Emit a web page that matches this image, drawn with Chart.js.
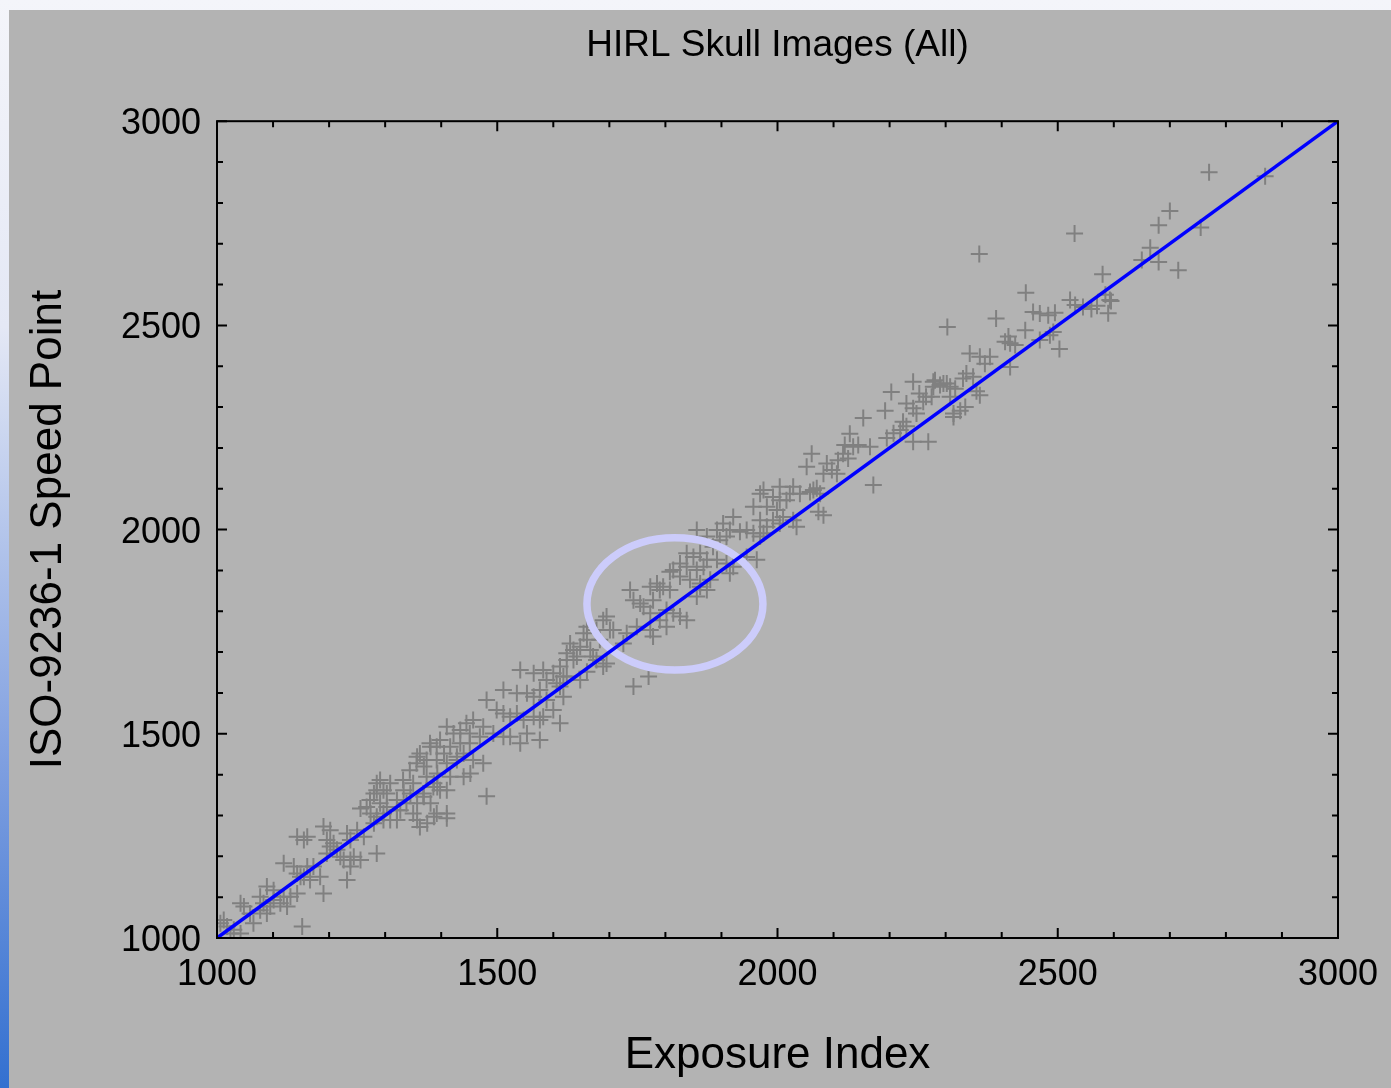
<!DOCTYPE html>
<html>
<head>
<meta charset="utf-8">
<title>HIRL Skull Images (All)</title>
<script src="https://cdn.jsdelivr.net/npm/chart.js@4.4.1/dist/chart.umd.min.js"></script>
<style>
  html, body {
    margin: 0;
    padding: 0;
    width: 1391px;
    height: 1088px;
    overflow: hidden;
    background: linear-gradient(to bottom, #f4f5fa 0%, #e4e8f5 30%, #7f9fe0 70%, #3370d0 100%);
  }
  #panel {
    position: absolute;
    left: 9px;
    top: 10px;
    width: 1382px;
    height: 1078px;
    background: #b3b3b3;
  }
</style>
</head>
<body>
<div id="panel"><canvas id="skullChart" width="1382" height="1078"></canvas></div>
<script>
// HIRL skull images: exposure index vs ISO-9236-1 speed point

const chartTitle = "HIRL Skull Images (All)";
const xTitle = "Exposure Index";
const yTitle = "ISO-9236-1 Speed Point";

const majorTicks = [1000, 1500, 2000, 2500, 3000];
const minorTicks = [1000, 1100, 1200, 1300, 1400, 1500, 1600, 1700, 1800, 1900, 2000,
  2100, 2200, 2300, 2400, 2500, 2600, 2700, 2800, 2900, 3000];

// identity line (speed point = exposure index)
const fitX = [1000, 3000];
const fitY = [1000, 3000];

// highlighted region (data units): centre and radii
const circleCenter = [1817, 1818];
const circleRadius = [157, 162];

// [exposure index, speed point]
const skullPoints = [
  [2770, 2875], [2870, 2865], [2700, 2780], [2680, 2745], [2755, 2740], [2665, 2690],
  [2650, 2660], [2680, 2655], [2715, 2635], [2580, 2625], [2585, 2575], [2595, 2560],
  [2590, 2530], [2545, 2545], [2560, 2540], [2570, 2548], [2530, 2725], [2360, 2675],
  [2443, 2580], [2390, 2517], [2303, 2496], [2456, 2533], [2468, 2529], [2483, 2525],
  [2495, 2531], [2522, 2562], [2531, 2550], [2593, 2562], [2442, 2488], [2412, 2473],
  [2415, 2456], [2406, 2460], [2424, 2452], [2468, 2464], [2486, 2476], [2492, 2484],
  [2503, 2442], [2343, 2431], [2361, 2423], [2379, 2423], [2370, 2406], [2415, 2398],
  [2337, 2382], [2349, 2374], [2331, 2370], [2281, 2366], [2296, 2358], [2308, 2350],
  [2317, 2345], [2278, 2350], [2355, 2339], [2361, 2329], [2308, 2325], [2314, 2284],
  [2335, 2300], [2275, 2325],
  [2242, 2362], [2203, 2337], [2278, 2362], [2290, 2354], [2302, 2358], [2253, 2333],
  [2265, 2325], [2260, 2313], [2326, 2291], [2314, 2276], [2192, 2291], [2230, 2309],
  [2242, 2297], [2248, 2284], [2153, 2273], [2224, 2264], [2219, 2244], [2207, 2236],
  [2195, 2224], [2230, 2253], [2242, 2215], [2269, 2215], [2129, 2235], [2120, 2207],
  [2135, 2203], [2144, 2207], [2165, 2203], [2117, 2186], [2126, 2174], [2108, 2170],
  [2061, 2186], [2052, 2154], [2088, 2162], [2097, 2146], [2106, 2137], [2082, 2137],
  [2171, 2109], [1969, 2088], [1992, 2080], [2004, 2072], [2022, 2088], [2040, 2088],
  [2058, 2092], [2070, 2101], [2076, 2088], [1981, 2056], [1999, 2048], [2010, 2031],
  [2028, 2023], [2034, 2007], [2004, 2015], [1992, 2023], [2082, 2035], [1975, 1991],
  [1975, 2097], [2004, 2105], [2028, 2105], [2016, 2072], [2064, 2097], [2073, 2044],
  [1957, 2056], [1969, 2023], [1981, 2007], [1921, 2031], [1903, 2015], [1915, 1999],
  [1933, 1995], [1892, 1999], [1909, 1983], [1945, 1999], [1957, 1991], [1969, 1983],
  [1856, 1999], [1874, 1983], [1897, 1974], [1885, 1958], [1963, 1926], [1945, 1933],
  [1838, 1942], [1850, 1933], [1862, 1942], [1874, 1926], [1892, 1926], [1909, 1917],
  [1868, 1909], [1856, 1901], [1838, 1909], [1826, 1917], [1814, 1901], [1808, 1897],
  [1826, 1885], [1844, 1877], [1862, 1868], [1880, 1877], [1915, 1893], [1921, 1909],
  [1785, 1868], [1773, 1860], [1790, 1852], [1796, 1860], [1808, 1852], [1778, 1827],
  [1755, 1819], [1743, 1827], [1761, 1811], [1737, 1852], [1773, 1795], [1856, 1836],
  [1862, 1860], [1874, 1852], [1802, 1803], [1814, 1795], [1826, 1787], [1838, 1778],
  [1790, 1778], [1802, 1762], [1773, 1754], [1778, 1738], [1749, 1762], [1731, 1746],
  [1725, 1721], [1689, 1778], [1701, 1754], [1677, 1754], [1683, 1730], [1660, 1730],
  [1648, 1713], [1666, 1705], [1654, 1746], [1636, 1705], [1624, 1681], [1636, 1681],
  [1677, 1681], [1689, 1665], [1743, 1616], [1770, 1640], [1612, 1665], [1618, 1640],
  [1612, 1616],
  [1695, 1787], [1660, 1762], [1707, 1754], [1630, 1721], [1624, 1697], [1642, 1689],
  [1671, 1689], [1695, 1672], [1541, 1656], [1565, 1648], [1582, 1656], [1600, 1648],
  [1588, 1632], [1606, 1624], [1624, 1640], [1648, 1632], [1660, 1652], [1511, 1607],
  [1535, 1599], [1553, 1599], [1565, 1591], [1576, 1607], [1588, 1583], [1618, 1591],
  [1600, 1558], [1481, 1583], [1499, 1558], [1511, 1550], [1523, 1542], [1535, 1550],
  [1547, 1534], [1565, 1542], [1576, 1534], [1612, 1526], [1582, 1542], [1457, 1534],
  [1475, 1517], [1445, 1526], [1434, 1509], [1451, 1501], [1469, 1493], [1493, 1501],
  [1511, 1493], [1523, 1493], [1541, 1477], [1553, 1501], [1576, 1485], [1410, 1517],
  [1422, 1501], [1398, 1485], [1416, 1468], [1434, 1477], [1451, 1477], [1380, 1477],
  [1392, 1468], [1362, 1452], [1356, 1428], [1374, 1436], [1392, 1436], [1410, 1428],
  [1428, 1444], [1457, 1436], [1475, 1428], [1481, 1347], [1344, 1411], [1332, 1387],
  [1350, 1379], [1374, 1395], [1386, 1370], [1398, 1362], [1368, 1354], [1291, 1387],
  [1309, 1379], [1285, 1362], [1303, 1354], [1321, 1338], [1338, 1330], [1273, 1338],
  [1267, 1321], [1297, 1305], [1327, 1313], [1350, 1305], [1392, 1305], [1410, 1305],
  [1357, 1444], [1381, 1468], [1405, 1452], [1428, 1436], [1440, 1452], [1452, 1403],
  [1416, 1395], [1393, 1403], [1369, 1420], [1387, 1379], [1410, 1362], [1440, 1395],
  [1285, 1379], [1297, 1362], [1280, 1354], [1291, 1330], [1303, 1321], [1321, 1313],
  [1333, 1362], [1345, 1354], [1357, 1330], [1369, 1346], [1381, 1330], [1393, 1370],
  [1256, 1317], [1274, 1305], [1285, 1297], [1297, 1289], [1280, 1281], [1309, 1289],
  [1321, 1289], [1357, 1289], [1375, 1281], [1387, 1297], [1410, 1293], [1362, 1272],
  [1232, 1256], [1250, 1264], [1238, 1240], [1262, 1248], [1285, 1207], [1256, 1191],
  [1238, 1191], [1190, 1273], [1202, 1264], [1196, 1240], [1208, 1232], [1202, 1224],
  [1214, 1216], [1196, 1207], [1220, 1199], [1226, 1191], [1244, 1199], [1238, 1175],
  [1232, 1142], [1143, 1248], [1155, 1240], [1161, 1248], [1119, 1183], [1137, 1175],
  [1143, 1158], [1149, 1150], [1161, 1175], [1172, 1175], [1166, 1142], [1184, 1150],
  [1190, 1109], [1155, 1150], [1089, 1126], [1101, 1117], [1077, 1101], [1083, 1085],
  [1101, 1093], [1113, 1085], [1119, 1101], [1131, 1101], [1143, 1109], [1125, 1077],
  [1042, 1085], [1048, 1077], [1059, 1060], [1065, 1036], [1077, 1068], [1089, 1060],
  [1095, 1077], [1012, 1044], [1018, 1028], [1006, 1036], [1030, 1020], [1042, 1011],
  [1024, 1011], [1152, 1028]
];

const FONT = "'Liberation Sans', Arial, Helvetica, sans-serif";

// ellipse after the crosses, frame and inward ticks on top of everything
const framePlugin = {
  id: "frame",
  afterDatasetDraw(chart, args) {
    if (args.index !== 1) return;
    const { ctx, scales: { x, y } } = chart;
    const cx = x.getPixelForValue(circleCenter[0]);
    const cy = y.getPixelForValue(circleCenter[1]);
    const rx = Math.abs(x.getPixelForValue(circleCenter[0] + circleRadius[0]) - cx);
    const ry = Math.abs(y.getPixelForValue(circleCenter[1] + circleRadius[1]) - cy);
    ctx.save();
    ctx.strokeStyle = "#ccccfb";
    ctx.lineWidth = 7.5;
    ctx.beginPath();
    ctx.ellipse(cx, cy, rx, ry, 0, 0, Math.PI * 2);
    ctx.stroke();
    ctx.restore();
  },
  afterDatasetsDraw(chart) {
    const { ctx, chartArea: a, scales: { x, y } } = chart;
    ctx.save();
    ctx.strokeStyle = "#000";
    ctx.lineWidth = 2;
    ctx.strokeRect(a.left, a.top, a.right - a.left, a.bottom - a.top);
    ctx.beginPath();
    minorTicks.forEach((v) => {
      const len = majorTicks.includes(v) ? 10 : 6;
      const px = x.getPixelForValue(v);
      const py = y.getPixelForValue(v);
      ctx.moveTo(px, a.bottom); ctx.lineTo(px, a.bottom - len);
      ctx.moveTo(px, a.top); ctx.lineTo(px, a.top + len);
      ctx.moveTo(a.left, py); ctx.lineTo(a.left + len, py);
      ctx.moveTo(a.right, py); ctx.lineTo(a.right - len, py);
    });
    ctx.stroke();
    ctx.restore();
  },
};

const ctx = document.getElementById("skullChart").getContext("2d");
const skullChart = new Chart(ctx, {
  type: "scatter",
  data: {
    datasets: [
      {
        label: "Identity",
        data: fitX.map((v, i) => ({ x: v, y: fitY[i] })),
        showLine: true,
        borderColor: "#0000ff",
        borderWidth: 3.5,
        pointRadius: 0,
      },
      {
        label: "Skull images",
        data: skullPoints.map((p) => ({ x: p[0], y: p[1] })),
        pointStyle: "cross",
        pointRadius: 8.5,
        borderColor: "#808080",
        borderWidth: 2,
      },
    ],
  },
  options: {
    responsive: false,
    animation: false,
    devicePixelRatio: 1,
    layout: { padding: { left: 0, right: 53, top: 0, bottom: 0 } },
    plugins: {
      legend: { display: false },
      tooltip: { enabled: false },
      title: {
        display: true,
        text: chartTitle,
        fullSize: false,
        color: "#000",
        font: { family: FONT, size: 37, weight: "normal", lineHeight: 1.2 },
        padding: { top: 13.5, bottom: 53.3 },
      },
    },
    scales: {
      x: {
        type: "linear",
        min: 1000,
        max: 3000,
        afterBuildTicks: (s) => { s.ticks = majorTicks.map((v) => ({ value: v })); },
        afterFit: (s) => {
          s.height = 150;
          s.paddingLeft = 0;
          s.paddingRight = 0;
        },
        grid: { display: false, drawTicks: false },
        border: { display: false },
        ticks: {
          color: "#000",
          font: { family: FONT, size: 36 },
          padding: 15,
          maxRotation: 0,
          autoSkip: false,
          callback: (v) => String(v),
        },
        title: {
          display: true,
          text: xTitle,
          color: "#000",
          font: { family: FONT, size: 44, lineHeight: 1.2 },
          padding: { top: 0, bottom: 6 },
        },
      },
      y: {
        type: "linear",
        min: 1000,
        max: 3000,
        afterBuildTicks: (s) => { s.ticks = majorTicks.map((v) => ({ value: v })); },
        afterFit: (s) => {
          s.width = 208;
          s.paddingTop = 0;
          s.paddingBottom = 0;
        },
        grid: { display: false, drawTicks: false },
        border: { display: false },
        ticks: {
          color: "#000",
          font: { family: FONT, size: 36 },
          padding: 16,
          labelOffset: 3,
          autoSkip: false,
          callback: (v) => String(v),
        },
        title: {
          display: true,
          text: yTitle,
          color: "#000",
          font: { family: FONT, size: 44, lineHeight: 1.2 },
          padding: { top: 13, bottom: 0 },
        },
      },
    },
  },
  plugins: [framePlugin],
});
</script>
</body>
</html>
